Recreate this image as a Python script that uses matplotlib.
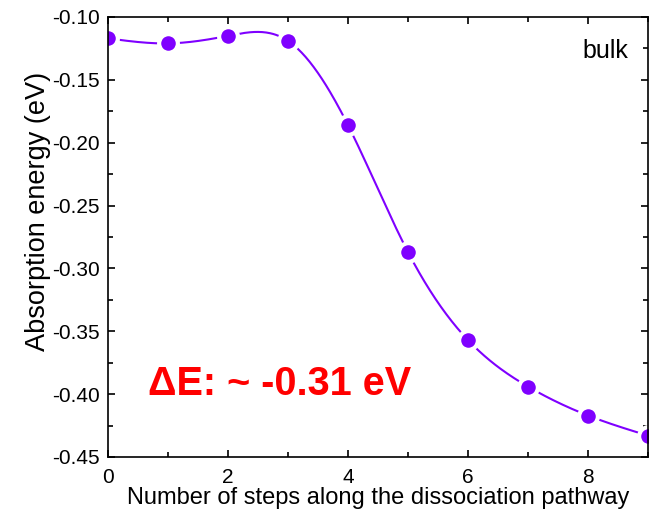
import matplotlib
matplotlib.use("Agg")
import matplotlib.pyplot as plt
import numpy as np
from matplotlib.ticker import MultipleLocator

# data
steps = np.arange(10)
energy = [-0.117, -0.121, -0.115, -0.119, -0.186, -0.287, -0.357, -0.394, -0.417, -0.433]
xticks = [0, 2, 4, 6, 8]
yticks = [-0.45, -0.40, -0.35, -0.30, -0.25, -0.20, -0.15, -0.10]

purple = '#7F00FF'

def spline(x, y, xs):
    # natural cubic spline, just for the smooth connecting line
    x = np.asarray(x, float); y = np.asarray(y, float)
    n = len(x); h = np.diff(x)
    A = np.zeros((n, n)); b = np.zeros(n)
    A[0, 0] = A[-1, -1] = 1
    for i in range(1, n - 1):
        A[i, i-1] = h[i-1]
        A[i, i] = 2 * (h[i-1] + h[i])
        A[i, i+1] = h[i]
        b[i] = 6 * ((y[i+1] - y[i]) / h[i] - (y[i] - y[i-1]) / h[i-1])
    M = np.linalg.solve(A, b)
    idx = np.clip(np.searchsorted(x, xs) - 1, 0, n - 2)
    t0 = xs - x[idx]; t1 = x[idx+1] - xs; hi = h[idx]
    return (M[idx] * t1**3 + M[idx+1] * t0**3) / (6 * hi) \
        + (y[idx] / hi - M[idx] * hi / 6) * t1 \
        + (y[idx+1] / hi - M[idx+1] * hi / 6) * t0

plt.rcParams['font.family'] = ['Liberation Sans', 'DejaVu Sans']

fig = plt.figure(figsize=(6.54, 5.14), dpi=100)
ax = fig.add_axes([108/654, 1 - 457/514, 540/654, 440/514])

xs = np.linspace(steps[0], steps[-1], 400)
ax.plot(xs, spline(steps, energy, xs), color=purple, lw=1.5, zorder=2)
ax.plot(steps, energy, 'o', color=purple, ms=13.5, mec='white', mew=3, zorder=3)

ax.set_xlim(0, 9)
ax.set_ylim(-0.45, -0.10)
ax.set_xticks(xticks)
ax.set_yticks(yticks)
ax.set_yticklabels([f'{v:.2f}' for v in yticks])
ax.xaxis.set_minor_locator(MultipleLocator(1))
ax.yaxis.set_minor_locator(MultipleLocator(0.025))
ax.tick_params(which='both', direction='in', top=True, right=True, width=1.2,
               labelsize=15)
ax.tick_params(axis='y', pad=6)
ax.tick_params(axis='x', pad=8)
ax.tick_params(which='major', length=5)
ax.tick_params(which='minor', length=3.5)
for s in ax.spines.values():
    s.set_linewidth(1.2)
    s.set_zorder(4)

ax.set_xlabel('Number of steps along the dissociation pathway', fontsize=17, labelpad=0)
ax.set_ylabel('Absorption energy (eV)', fontsize=19.5)
ax.yaxis.set_label_coords(-0.105, 0.557)

ax.text(8.67, -0.1326, 'bulk', fontsize=18, ha='right', va='baseline')
ax.text(0.667, -0.4007, 'ΔE: ~ -0.31 eV', fontsize=28.5, fontweight='bold', color='red',
        ha='left', va='baseline')

fig.savefig('out.png', dpi=100)
